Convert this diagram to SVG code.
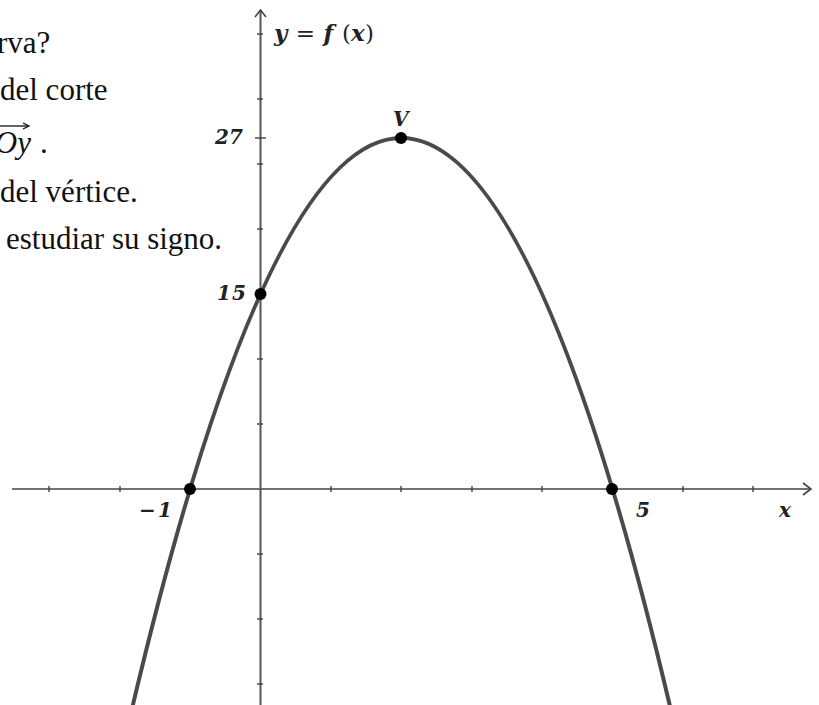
<svg xmlns="http://www.w3.org/2000/svg" width="819" height="705" viewBox="0 0 819 705">
<defs>
<style>
.txt{font-family:"Liberation Serif","Times New Roman",serif;font-size:31px;fill:#111}
.lbl{font-family:"DejaVu Serif","Liberation Serif",serif;font-size:20px;font-style:italic;font-weight:bold;fill:#222}
.axis{stroke:#444;stroke-width:1.6;fill:none}
.tick{stroke:#444;stroke-width:1.4}
.curve{stroke:#4a4a4a;stroke-width:4;fill:none}
.dot{fill:#000}
</style>
</defs>
<rect width="819" height="705" fill="#fff"/>
<g id="question-text">
<text class="txt" x="-3" y="53">rva?</text>
<text class="txt" x="0" y="100">del corte</text>
<text class="txt" x="31" y="153" text-anchor="end" style="font-style:italic">Oy</text>
<text class="txt" x="40" y="153">.</text>
<line x1="-2" y1="126" x2="28" y2="126" stroke="#111" stroke-width="1.3"/>
<path d="M23,123 L29,126 L23,129" stroke="#111" stroke-width="1.3" fill="none"/>
<text class="txt" x="0" y="202">del vértice.</text>
<text class="txt" x="6" y="249">estudiar su signo.</text>
</g>
<g id="connectors">
<g id="x-axis">
<line class="axis" x1="12" y1="489" x2="811" y2="489"/>
<path class="axis" d="M803,483 L811,489 L803,495"/>
<g class="tick">
<line x1="49" y1="486" x2="49" y2="492"/>
<line x1="120" y1="486" x2="120" y2="492"/>
<line x1="331" y1="486" x2="331" y2="492"/>
<line x1="401" y1="486" x2="401" y2="492"/>
<line x1="472" y1="486" x2="472" y2="492"/>
<line x1="542" y1="486" x2="542" y2="492"/>
<line x1="683" y1="486" x2="683" y2="492"/>
<line x1="753" y1="486" x2="753" y2="492"/>
</g>
</g>
<g id="y-axis">
<line class="axis" x1="260.5" y1="705" x2="260.5" y2="10" style="stroke:#555;stroke-width:2"/>
<path class="axis" d="M255,17 L260.5,10 L266,17"/>
<g class="tick">
<line x1="257" y1="34" x2="263" y2="34"/>
<line x1="257" y1="99" x2="263" y2="99"/>
<line x1="255" y1="138" x2="266" y2="138"/>
<line x1="257" y1="164" x2="263" y2="164"/>
<line x1="257" y1="229" x2="263" y2="229"/>
<line x1="257" y1="359" x2="263" y2="359"/>
<line x1="257" y1="424" x2="263" y2="424"/>
<line x1="257" y1="554" x2="263" y2="554"/>
<line x1="257" y1="619" x2="263" y2="619"/>
<line x1="257" y1="684" x2="263" y2="684"/>
</g>
</g>
<path id="parabola" class="curve" d="M132.4,707.1 Q401.3,-431.1 670.2,707.1"/>
</g>
<g id="axis-labels">
<text class="lbl" x="274" y="41" style="font-size:23px" textLength="100" lengthAdjust="spacing">y <tspan style="font-style:normal;font-weight:normal">=</tspan> f <tspan style="font-style:normal;font-weight:normal">(</tspan>x<tspan style="font-style:normal;font-weight:normal">)</tspan></text>
<text class="lbl" x="215" y="144" textLength="28" lengthAdjust="spacing">27</text>
<text class="lbl" x="217" y="300" textLength="29" lengthAdjust="spacing">15</text>
<text class="lbl" x="139" y="517" textLength="33" lengthAdjust="spacing">−1</text>
<text class="lbl" x="636" y="517">5</text>
<text class="lbl" x="779" y="517">x</text>
</g>
<g id="point-minus1"><circle class="dot" cx="190" cy="489" r="6"/></g>
<g id="point-5"><circle class="dot" cx="612" cy="489" r="6"/></g>
<g id="point-15"><circle class="dot" cx="260.5" cy="294" r="6"/></g>
<g id="point-V"><circle class="dot" cx="401" cy="138" r="6"/><text class="lbl" x="393" y="126">V</text></g>
</svg>
